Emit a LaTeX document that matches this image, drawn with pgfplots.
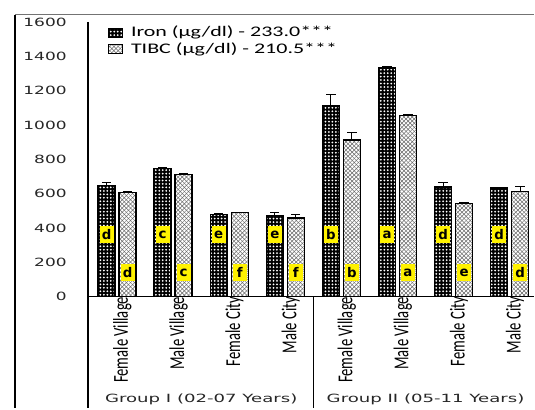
\documentclass[border=0pt]{standalone}
\usepackage{pgfplots}
\pgfplotsset{compat=1.18}
\usetikzlibrary{patterns,patterns.meta}
\usepackage{fontspec}
\setmainfont{Carlito}
\newfontfamily\dejavu{DejaVu Sans}
\newcommand\sx[1]{\scalebox{1.5}[1]{#1}}
\newcommand\gx[1]{\scalebox{1.6}[1]{#1}}
\newcommand\cat[1]{\scalebox{1}[1.45]{\fontsize{11}{12}\selectfont #1}}
\begin{document}
\begin{tikzpicture}
\path (-66pt,-83.25pt) rectangle (335.25pt,222.75pt);
\begin{axis}[
  at={(0,0)}, anchor=south west,
  scale only axis, width=335.25pt, height=206.25pt,
  xmin=-0.52, xmax=7.44, ymin=0, ymax=1600,
  clip=false,
  separate axis lines,
  axis x line*=bottom, axis y line*=left,
  axis line style={-, line width=1pt},
  major tick length=0pt,
  ytick={0,200,400,600,800,1000,1200,1400,1600},
  yticklabels={\sx{0},\sx{200},\sx{400},\sx{600},\sx{800},\sx{1000},\sx{1200},\sx{1400},\sx{1600}},
  yticklabel style={font=\dejavu\fontsize{8.5}{10}\selectfont, anchor=east, inner sep=0pt, xshift=-15.75pt, text=black!85},
  xtick={0,1,2,3,4,5,6,7},
  xticklabels={\cat{Female Village},\cat{Male Village},\cat{Female City},\cat{Male City},\cat{Female Village},\cat{Male Village},\cat{Female City},\cat{Male City}},
  xticklabel style={rotate=90, anchor=east, inner sep=0pt, yshift=-4pt},
  ybar, bar width=12.75pt,
  legend style={at={(rel axis cs:0.045,0.995)}, anchor=north west, draw=none, fill=none,
    font=\fontsize{11}{13}\selectfont, inner sep=0pt, row sep=-1.5pt, cells={anchor=west}},
  legend image code/.code={\draw[#1, line width=0.6pt] (0pt,-3.4pt) rectangle (10.5pt,3.4pt);},
  error bars/y dir=plus, error bars/y explicit,
  error bars/error bar style={line width=0.8pt, black},
  error bars/error mark options={rotate=90, mark size=3.5pt, line width=0.8pt, black},
]
\addplot[bar shift=-7.875pt, draw=black, line width=1pt, fill=black,
  postaction={pattern={Dots[distance=2.6pt, radius=0.75pt]}, pattern color=white}]
  coordinates {(0,646) +- (0,17) (1,745) +- (0,8) (2,477) +- (0,8) (3,471) +- (0,19)
               (4,1111) +- (0,64) (5,1332) +- (0,8) (6,638) +- (0,27) (7,632) +- (0,5)};
\addlegendentry{\hspace{4pt}\sx{Iron (µg/dl) - 233.0***}}
\addplot[bar shift=7.875pt, draw=black, line width=1pt, fill=white,
  postaction={pattern={Lines[angle=45,distance=2.2pt,line width=0.35pt]}, pattern color=black!60},
  postaction={pattern={Lines[angle=-45,distance=2.2pt,line width=0.35pt]}, pattern color=black!60}]
  coordinates {(0,605) +- (0,5) (1,710) +- (0,7) (2,489) +- (0,3) (3,458) +- (0,19)
               (4,913) +- (0,41) (5,1057) +- (0,4) (6,541) +- (0,5) (7,613) +- (0,29)};
\addlegendentry{\hspace{4pt}\sx{TIBC (µg/dl) - 210.5***}}
% significance letters
\addplot[forget plot, only marks, mark=none, nodes near coords, point meta=explicit symbolic,
  every node near coord/.style={fill=yellow, text=black, font=\dejavu\bfseries\fontsize{10}{11}\selectfont,
    inner sep=0.3pt, minimum width=10.5pt, minimum height=13pt, anchor=center}]
  coordinates {(-0.187,360)[d] (0.813,360)[c] (1.813,360)[e] (2.813,360)[e]
               (3.813,360)[b] (4.813,360)[a] (5.813,360)[d] (6.813,360)[d]};
\addplot[forget plot, only marks, mark=none, nodes near coords, point meta=explicit symbolic,
  every node near coord/.style={fill=yellow, text=black, font=\dejavu\bfseries\fontsize{10}{11}\selectfont,
    inner sep=0.3pt, minimum width=10.5pt, minimum height=13pt, anchor=center}]
  coordinates {(0.187,140)[d] (1.187,140)[c] (2.187,140)[f] (3.187,140)[f]
               (4.187,140)[b] (5.187,140)[a] (6.187,140)[e] (7.187,140)[d]};
% frame and separators
\draw[line width=1pt] (rel axis cs:0,1) -- (rel axis cs:0,-0.404);
\draw[line width=1.2pt] (rel axis cs:-0.1633,1.0255) -- (rel axis cs:-0.1633,-0.404);
\draw[line width=0.8pt, black!55] (rel axis cs:-0.1633,1.0255) -- (rel axis cs:1,1.0255);
\draw[line width=1pt] (axis cs:3.5,0) -- (axis cs:3.5,-646);
\node[font=\dejavu\fontsize{8.5}{10}\selectfont, text=black!85] at (axis cs:1.5,-597) {\gx{Group I (02-07 Years)}};
\node[font=\dejavu\fontsize{8.5}{10}\selectfont, text=black!85] at (axis cs:5.5,-597) {\gx{Group II (05-11 Years)}};
\end{axis}
\end{tikzpicture}
\end{document}
